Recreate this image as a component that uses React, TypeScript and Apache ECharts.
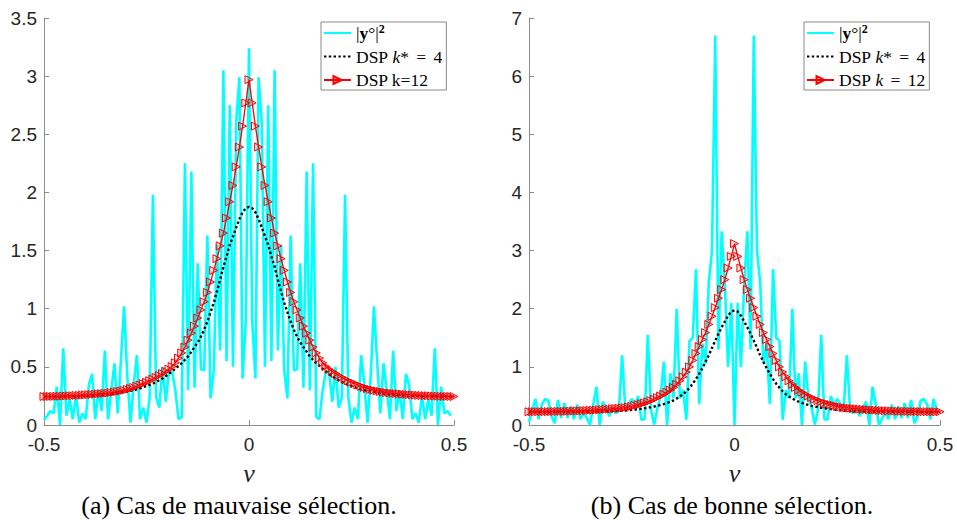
import React, { useEffect, useRef } from "react";
import * as echarts from "echarts";

// Frequency grid: nu = k/128 - 0.5. Spectra of a real signal are symmetric,
// so each array below holds the values read for k = 0..64 (nu = -0.5 .. 0).
const STEP_COUNT = 128;

// (a) left panel
const cyanLeftHalf = [
  0.04, 0.08, 0.12, 0.1, 0.33, 0.0, 0.66, 0.08, 0.22, 0.05,
  0.25, 0.02, 0.1, 0.05, 0.34, 0.44, 0.05, 0.3, 0.12, 0.64,
  0.05, 0.3, 0.53, 0.1, 0.55, 1.02, 0.42, 0.02, 0.35, 0.6,
  0.05, 0.15, 0.02, 0.24, 1.98, 0.24, 0.15, 0.5, 0.2, 0.46,
  0.46, 0.3, 0.05, 0.07, 2.25, 0.3, 2.18, 0.32, 1.39, 0.48,
  0.47, 1.63, 0.23, 0.47, 1.55, 0.64, 3.05, 0.55, 2.75, 0.5,
  2.6, 2.99, 0.4, 0.9, 3.24,
];
const dsp4LeftHalf = [
  0.244, 0.244, 0.244, 0.245, 0.245, 0.245, 0.246, 0.246, 0.246, 0.246,
  0.247, 0.248, 0.249, 0.25, 0.252, 0.253, 0.255, 0.257, 0.259, 0.261,
  0.264, 0.267, 0.27, 0.274, 0.278, 0.283, 0.288, 0.294, 0.3, 0.307,
  0.315, 0.325, 0.335, 0.345, 0.355, 0.37, 0.385, 0.4, 0.42, 0.44,
  0.46, 0.485, 0.508, 0.533, 0.56, 0.59, 0.63, 0.67, 0.71, 0.76,
  0.82, 0.89, 0.97, 1.05, 1.15, 1.25, 1.36, 1.45, 1.55, 1.62,
  1.7, 1.77, 1.83, 1.865, 1.875,
];
const dsp12LeftHalf = [
  0.245, 0.245, 0.246, 0.246, 0.247, 0.248, 0.249, 0.25, 0.251, 0.252,
  0.254, 0.255, 0.257, 0.259, 0.261, 0.263, 0.265, 0.268, 0.27, 0.272,
  0.275, 0.279, 0.283, 0.288, 0.293, 0.299, 0.306, 0.314, 0.323, 0.333,
  0.345, 0.356, 0.368, 0.381, 0.395, 0.41, 0.426, 0.443, 0.461, 0.48,
  0.503, 0.535, 0.575, 0.62, 0.67, 0.73, 0.79, 0.85, 0.92, 0.99,
  1.06, 1.14, 1.23, 1.33, 1.43, 1.54, 1.65, 1.78, 1.92, 2.06,
  2.22, 2.39, 2.57, 2.77, 2.97,
];

// (b) right panel
const cyanRightHalf = [
  0.05, 0.25, 0.45, 0.1, 0.35, 0.45, 0.42, 0.15, 0.03, 0.43,
  0.12, 0.38, 0.12, 0.32, 0.1, 0.35, 0.1, 0.2, 0.12, 0.0,
  0.35, 0.66, 0.0, 0.4, 0.3, 0.15, 0.3, 0.2, 0.25, 1.2,
  0.27, 0.35, 0.45, 0.33, 0.5, 0.09, 0.1, 1.55, 0.26, 0.01,
  0.3, 0.49, 1.09, 0.0, 0.89, 0.46, 2.0, 0.46, 0.6, 0.09,
  1.45, 1.5, 2.68, 0.36, 1.4, 1.05, 2.45, 3.0, 6.7, 1.3,
  3.33, 2.4, 1.0, 2.1, 0.0,
];
const dsp4RightHalf = [
  0.226, 0.226, 0.226, 0.227, 0.227, 0.227, 0.228, 0.228, 0.228, 0.229,
  0.229, 0.229, 0.23, 0.23, 0.23, 0.231, 0.231, 0.231, 0.232, 0.232,
  0.233, 0.233, 0.233, 0.234, 0.234, 0.235, 0.237, 0.24, 0.243, 0.246,
  0.25, 0.255, 0.26, 0.266, 0.273, 0.28, 0.288, 0.297, 0.307, 0.318,
  0.33, 0.345, 0.36, 0.38, 0.4, 0.425, 0.455, 0.49, 0.53, 0.58,
  0.64, 0.71, 0.79, 0.88, 0.98, 1.09, 1.2, 1.33, 1.45, 1.57,
  1.68, 1.78, 1.88, 1.95, 1.97,
];
const dsp12RightHalf = [
  0.228, 0.228, 0.228, 0.229, 0.229, 0.23, 0.23, 0.231, 0.232, 0.233,
  0.234, 0.235, 0.236, 0.238, 0.24, 0.242, 0.244, 0.246, 0.249, 0.252,
  0.255, 0.258, 0.262, 0.266, 0.27, 0.274, 0.279, 0.284, 0.289, 0.295,
  0.3, 0.31, 0.32, 0.335, 0.35, 0.365, 0.38, 0.4, 0.42, 0.445,
  0.47, 0.5, 0.53, 0.565, 0.6, 0.645, 0.7, 0.76, 0.83, 0.91,
  1.0, 1.11, 1.23, 1.35, 1.47, 1.59, 1.73, 1.87, 2.02, 2.18,
  2.33, 2.5, 2.7, 2.9, 3.12,
];

const xTicksLabels = ["-0.5", "0", "0.5"];
const captionA = "(a) Cas de mauvaise sélection.";
const captionB = "(b) Cas de bonne sélection.";
const NAME_Y = "|y°|²";
const NAME_K4 = "DSP k* = 4";
const NAME_K12A = "DSP k=12";
const NAME_K12B = "DSP k = 12";

// mirror k=0..64 onto k=65..127 (and k=128 for curves that reach +0.5)
function mirror(half: number[], includeEnd: boolean): number[] {
  const right = half.slice(1, 64).reverse();
  const all = [...half, ...right];
  if (includeEnd) all.push(half[0]);
  return all;
}
function toPoints(vals: number[]): number[][] {
  return vals.map((v, k) => [k / STEP_COUNT - 0.5, v]);
}

const SERIF = "'Liberation Serif', 'Times New Roman', serif";
const SANS = "'Liberation Sans', Arial, sans-serif";
const AXIS_GRAY = "#8c8c8c";

function xAxisFor(gridIndex: number) {
  return {
    gridIndex,
    type: "value",
    min: -0.5,
    max: 0.5,
    interval: 0.5,
    name: "ν",
    nameLocation: "middle",
    nameGap: 35,
    nameTextStyle: { fontFamily: SERIF, fontStyle: "italic", fontSize: 26, color: "#222" },
    axisLine: { show: true, onZero: false, lineStyle: { color: AXIS_GRAY, width: 1 } },
    axisTick: { show: true, inside: true, length: 5, lineStyle: { color: AXIS_GRAY } },
    axisLabel: {
      color: "#262626",
      fontSize: 19,
      fontFamily: SANS,
      margin: 10,
      formatter: (v: number) => xTicksLabels[Math.round((v + 0.5) / 0.5)] ?? String(v),
    },
    splitLine: { show: false },
  };
}
function yAxisFor(gridIndex: number, max: number, interval: number) {
  return {
    gridIndex,
    type: "value",
    min: 0,
    max,
    interval,
    axisLine: { show: true, onZero: false, lineStyle: { color: AXIS_GRAY, width: 1 } },
    axisTick: { show: true, inside: true, length: 5, lineStyle: { color: AXIS_GRAY } },
    axisLabel: { color: "#262626", fontSize: 19, fontFamily: SANS, margin: 7 },
    splitLine: { show: false },
  };
}

const richStyles = {
  n: { fontFamily: SERIF, fontSize: 17.5, color: "#000" },
  b: { fontFamily: SERIF, fontSize: 17.5, fontWeight: "bold", color: "#000" },
  i: { fontFamily: SERIF, fontSize: 17.5, fontStyle: "italic", color: "#000" },
  eq: { fontFamily: SERIF, fontSize: 17.5, color: "#000", padding: [0, 3, 0, 3] },
  sup: { fontFamily: SERIF, fontSize: 12, fontWeight: "bold", color: "#000", verticalAlign: "top" },
};
const legendText: Record<string, string> = {
  [NAME_Y]: "{n||}{b|y}{n|°|}{sup|2}",
  [NAME_K4]: "{n|DSP }{i|k}{n|* }{eq|=}{n| 4}",
  [NAME_K12A]: "{n|DSP k=12}",
  [NAME_K12B]: "{n|DSP }{i|k}{n| }{eq|=}{n| 12}",
};

function legendFor(left: number, names: string[]) {
  return {
    orient: "vertical",
    left,
    top: 22,
    data: names.map((name) =>
      name === NAME_Y || name === NAME_K4 ? { name, itemStyle: { opacity: 0 } } : { name }
    ),
    backgroundColor: "#fff",
    borderColor: "#8a8a8a",
    borderWidth: 1,
    borderRadius: 0,
    padding: [1, 4, 0, 2],
    itemGap: 3.5,
    itemWidth: 27,
    itemHeight: 10,
    selectedMode: false,
    formatter: (name: string) => legendText[name] ?? name,
    textStyle: { fontFamily: SERIF, fontSize: 17.5, color: "#000", lineHeight: 20, rich: richStyles },
  };
}

function cyanSeries(idx: number, vals: number[]) {
  return {
    name: NAME_Y,
    type: "line",
    xAxisIndex: idx,
    yAxisIndex: idx,
    data: toPoints(vals),
    symbol: "none",
    showSymbol: false,
    itemStyle: { color: "#00ffff" },
    lineStyle: { color: "#00ffff", width: 2.6 },
    z: 2,
  };
}
function dsp4Series(idx: number, vals: number[]) {
  return {
    name: NAME_K4,
    type: "line",
    xAxisIndex: idx,
    yAxisIndex: idx,
    data: toPoints(vals),
    symbol: "none",
    showSymbol: false,
    itemStyle: { color: "#000" },
    lineStyle: { color: "#000", width: 2.4, type: [2.4, 2.4] },
    z: 3,
  };
}
function dsp12Series(idx: number, name: string, vals: number[]) {
  return {
    name,
    type: "line",
    xAxisIndex: idx,
    yAxisIndex: idx,
    data: toPoints(vals),
    symbol: "triangle",
    symbolSize: 8,
    symbolRotate: -90,
    showSymbol: true,
    clip: false,
    itemStyle: { color: "rgba(255,0,0,0.12)", borderColor: "#ff0000", borderWidth: 1 },
    lineStyle: { color: "#ff0000", width: 1.3 },
    z: 4,
  };
}

export default function App() {
  const ref = useRef<HTMLDivElement>(null);
  useEffect(() => {
    if (!ref.current) return;
    const chart = echarts.init(ref.current, undefined, { renderer: "svg" });
    chart.setOption({
      animation: false,
      backgroundColor: "#fff",
      grid: [
        { left: 44, top: 18, width: 410, height: 407 },
        { left: 529, top: 18, width: 411, height: 407 },
      ],
      xAxis: [xAxisFor(0), xAxisFor(1)],
      yAxis: [yAxisFor(0, 3.5, 0.5), yAxisFor(1, 7, 1)],
      legend: [
        legendFor(321, [NAME_Y, NAME_K4, NAME_K12A]),
        legendFor(804, [NAME_Y, NAME_K4, NAME_K12B]),
      ],
      series: [
        cyanSeries(0, mirror(cyanLeftHalf, false)),
        dsp4Series(0, mirror(dsp4LeftHalf, true)),
        dsp12Series(0, NAME_K12A, mirror(dsp12LeftHalf, true)),
        cyanSeries(1, mirror(cyanRightHalf, false)),
        dsp4Series(1, mirror(dsp4RightHalf, true)),
        dsp12Series(1, NAME_K12B, mirror(dsp12RightHalf, true)),
      ],
      graphic: [
        {
          type: "text",
          x: 239,
          y: 505,
          style: { text: captionA, fontFamily: SERIF, fontSize: 26, fill: "#000", align: "center", verticalAlign: "middle" },
        },
        {
          type: "text",
          x: 732,
          y: 505,
          style: { text: captionB, fontFamily: SERIF, fontSize: 26, fill: "#000", align: "center", verticalAlign: "middle" },
        },
      ],
    });
    return () => chart.dispose();
  }, []);
  return (
    <div
      ref={ref}
      style={{ position: "absolute", left: 0, top: 0, width: 957, height: 520, background: "#fff" }}
    />
  );
}
